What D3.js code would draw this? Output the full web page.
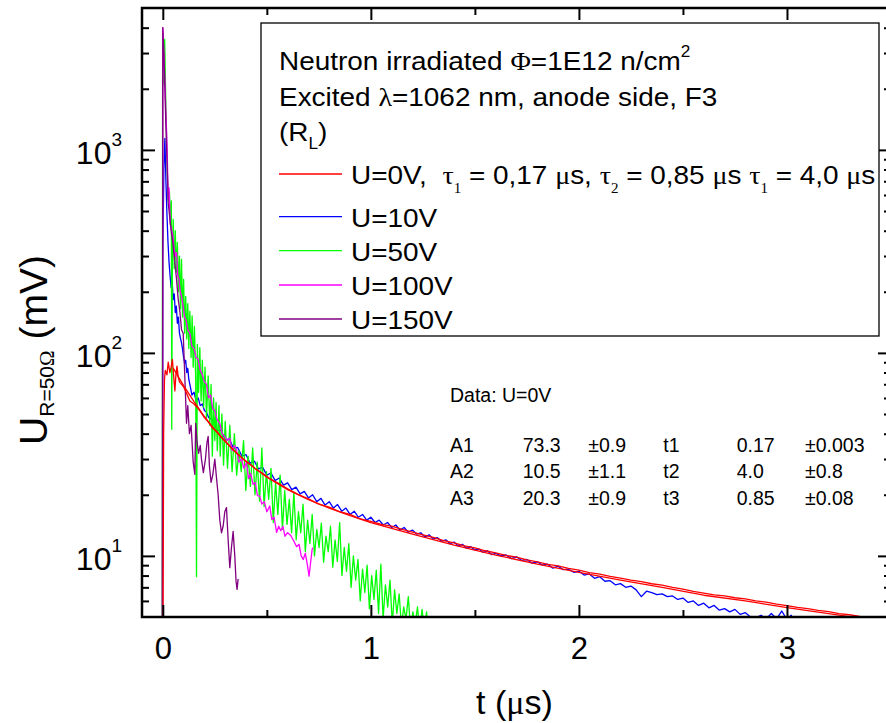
<!DOCTYPE html>
<html><head><meta charset="utf-8">
<script src="https://cdn.jsdelivr.net/npm/d3@7"></script>
<style>
body{margin:0;background:#fff}
svg{display:block}
text{font-family:"Liberation Sans",Arial,sans-serif;fill:#000;white-space:pre}
.gr{font-family:"Liberation Serif","Times New Roman",serif}
</style>
</head><body>
<svg id="c" width="886" height="723"></svg>
<script>
// ---------------- data ----------------
const xMajorTicks = [0, 1, 2, 3];
const xMinorTicks = [0.5, 1.5, 2.5, 3.5];
const yMajorTicks = [10, 100, 1000];
const yMajorExp = ["1", "2", "3"];
const yMinorTicks = [6,7,8,9,20,30,40,50,60,70,80,90,200,300,400,500,600,700,800,900,2000,3000,4000];

// U=0V measured (red)
const red_t = [0.000,0.004,0.008,0.012,0.02,0.026,0.034,0.04,0.046,0.053,0.058,0.063,0.068,0.074,0.08,0.09,0.1,0.106,0.115,0.13,0.14,
0.15,0.165,0.18,0.2,0.22,0.24,0.26,0.28,0.3,0.33,0.36,0.39,0.42,0.45,0.48,0.51,0.55,0.6,0.65,0.7,0.75,0.8,0.85,0.9,0.95,
1.0,1.05,1.1,1.15,1.2,1.25,1.3,1.35,1.4,1.45,1.5,1.55,1.6,1.65,1.7,1.75,1.8,1.85,1.9,1.95,2.0,2.05,2.1,2.15,2.2,2.25,2.3,2.35,2.4,2.45,2.5,2.55,2.6,2.65,2.7,2.75,2.8,2.85,2.9,2.95,3.0,3.05,3.1,3.15,3.2,3.25,3.3,3.35,3.4,3.45,3.5];
const red_v = [2,40,74,82,78,90,80,85,93,75,65,78,86,76,72,70,68,66,63,58,57,
56,54,51.5,48,45.5,42.5,41,38.5,36.8,34,31.8,29.8,28.3,26.6,25.5,24.2,23,21.4,20.1,19.1,18.0,17.4,16.5,16.0,15.2,
14.8,14.3,14.0,13.5,13.1,12.7,12.35,11.9,11.6,11.2,10.95,10.6,10.35,10.05,9.85,9.55,9.35,9.08,8.92,8.68,8.5,8.28,8.13,7.93,7.78,7.6,7.47,7.29,7.17,6.99,6.86,6.68,6.56,6.42,6.35,6.22,6.14,6.0,5.92,5.78,5.69,5.58,5.5,5.39,5.31,5.2,5.13,5.04,4.97,4.88,4.82];

// U=0V three-exponential fit (red)
const fit_t = [0.05,0.1,0.15,0.2,0.25,0.3,0.35,0.4,0.5,0.6,0.7,0.8,0.9,1.0,1.2,1.4,1.6,1.8,2.0,2.2,2.4,2.6,2.8,3.0,3.2,3.4,3.5];
const fit_v = [84.1,69.0,57.5,48.6,41.8,36.6,32.4,29.2,24.4,21.2,18.9,17.2,15.8,14.6,12.8,11.3,10.1,9.1,8.3,7.6,7.0,6.4,6.0,5.56,5.19,4.86,4.71];

// U=10V (blue)
const blue_t = [-0.002,0.0,0.005,0.01,0.015,0.02,0.025,0.03,0.035,0.04,0.045,0.05,0.055,0.06,0.065,0.07,0.075,0.08,0.085,0.09,0.095,0.1,0.105,0.11,0.115,0.12,0.125,0.13,0.135,0.14,0.15,0.16,0.17,0.18,0.19,0.2,0.21,0.22,0.23,
0.24,0.26,0.28,0.30,0.32,0.34,0.36,0.38,0.40,0.42,0.44,0.46,0.48,0.50,0.52,0.54,0.56,0.58,0.60,0.62,0.64,0.66,0.68,0.70,0.72,0.74,0.76,0.78,0.80,0.82,0.84,0.86,0.88,0.90,0.92,0.94,0.96,0.98,1.00,1.02,1.04,1.06,1.08,1.10,1.12,1.14,1.16,1.18,1.20,1.22,1.24,1.26,1.28,1.30,1.32,1.34,1.36,1.38,1.40,1.42,1.44,1.46,1.48,1.50,1.52,1.54,1.56,1.58,1.60,
1.625,1.65,1.675,1.7,1.725,1.75,1.775,1.8,1.825,1.85,1.875,1.9,1.925,1.95,1.975,2.0,2.025,2.05,2.075,2.1,2.125,2.15,2.175,2.2,2.225,2.25,2.275,2.3,2.325,2.35,2.375,2.4,2.425,2.45,2.475,2.5,2.525,2.55,2.575,2.6,2.625,2.65,2.675,2.7,2.725,2.75,2.775,2.8,2.825,2.85,2.875,2.9,2.925,2.95,2.975,3.0,3.02,3.04];
const blue_v = [2,300,800,1140,700,480,350,280,240,210,225,183,195,158,170,140,150,125,118,112,104,95,89,92,80,84,74,70,66,62,64,58,60,55,56,52,51,48,47.5,
46.5,41.5,41.6,37.3,37.7,33.9,34.2,31.0,31.5,28.6,29.3,26.8,27.3,25.0,25.6,23.5,24.2,22.3,22.9,21.2,21.8,20.2,20.8,19.3,20.0,18.5,19.2,17.8,18.5,17.2,17.9,16.6,17.2,16.0,16.6,15.5,16.0,15.0,15.5,14.6,15.0,14.2,14.6,13.8,14.2,13.4,13.8,13.1,13.4,12.8,13.0,12.4,12.7,12.1,12.3,11.8,12.0,11.5,11.7,11.2,11.4,10.9,11.1,10.7,10.8,10.4,10.6,10.15,10.3,
10.0,10.1,9.7,9.9,9.5,9.6,9.2,9.35,9.0,9.1,8.7,8.9,8.55,8.6,8.3,8.4,8.05,8.15,7.75,7.9,7.5,7.55,7.2,7.3,7.0,7.1,6.8,6.3,6.7,6.6,6.45,6.5,6.3,6.35,6.1,6.2,5.9,6.0,5.7,5.85,5.55,5.7,5.4,5.5,5.3,5.45,5.15,5.25,5.0,4.95,5.1,4.9,5.2,4.9,5.35,4.85,5.1,4.6];

// U=50V (green)
const green_t = [-0.003,-0.001,0.004,0.009,0.014,0.02,0.026,0.032,0.037,0.041,0.043,0.046,0.05,0.055,0.06,0.065,0.07,0.075,0.08,0.085,0.09,0.095,0.1,0.105,0.11,0.115,0.12,0.125,0.13,0.136,0.141,0.146,0.152,0.158,0.162,0.166,0.172,0.178,0.184,0.19,0.196,0.203,0.21,0.218,0.226,0.232,0.238,0.244,0.25,0.256,0.262,0.27,0.276,0.284,0.292,
0.300,0.311,0.322,0.333,0.344,0.355,0.366,0.377,0.388,0.399,0.410,0.421,0.432,0.443,0.454,0.465,0.476,0.487,0.498,0.509,0.520,0.531,0.542,0.553,0.564,0.575,0.586,0.597,0.608,0.619,0.630,0.641,0.652,0.663,0.674,0.685,0.696,0.707,0.718,0.729,0.740,0.751,0.762,0.773,0.784,0.795,0.806,0.817,0.828,0.839,0.850,0.861,0.872,0.883,0.894,0.905,0.916,0.927,0.938,0.949,0.960,0.971,0.982,0.993,1.004,1.015,1.026,1.037,1.048,1.059,1.070,1.081,1.092,1.103,1.114,1.125,1.136,1.147,1.158,1.169,1.180,1.191,1.202,1.213,1.224,1.235,1.246,1.257,1.268,1.275];
const green_v = [3,2300,2100,3500,1800,900,560,620,430,560,42,320,455,260,400,250,350,200,300,165,289,150,230,125,190,117,175,105,160,95,152,85,135,75,7.9,110,64,106,58,92,54,85,48,77,44,70,31,60,37,57,33,55,31,50,28,
46,27,44,26,40,25,33,26,37,21,31,22,34,20,29,18.6,34,17.5,26,19,27,14.6,23,16,25,13.5,21,14.3,19,13,20.5,12,16.5,13,18,10.5,15,11.5,16,10,13.5,11,14.5,9.3,12.5,10.5,14,8.8,12,9.4,14.6,8.0,11,8.4,11.5,7.0,10,7.6,9.6,6.0,8.6,6.6,9.0,5.5,8.0,6.1,8.5,5.2,9.1,4.9,7.2,5.6,7.6,4.6,6.8,5.2,6.5,4.5,5.6,4.9,6.3,4.3,5.3,4.6,5.6,4.2,5.45,4.4,5.3,4.0];

// U=100V (magenta)
const mag_t = [-0.002,0.0,0.005,0.01,0.015,0.02,0.026,0.03,0.036,0.042,0.048,0.054,0.06,0.066,0.072,0.078,0.084,0.09,0.098,0.105,0.112,0.12,0.13,0.14,0.15,0.16,0.17,0.18,0.19,0.2,0.21,0.22,0.23,0.24,0.25,0.26,0.274,0.285,0.295,0.31,0.322,0.333,0.344,0.354,0.365,0.378,0.39,0.402,0.412,0.422,0.434,0.444,0.455,0.466,0.476,0.488,0.5,0.514,0.524,0.535,0.547,0.557,0.567,0.577,0.587,0.6,0.615,0.63,0.643,0.655,0.665,0.675,0.685,0.695,0.703,0.71,0.718,0.723];
const mag_v = [3,4000,3000,2200,1500,1100,570,650,430,405,380,330,300,312,240,230,200,190,170,150,145,130,125,108,105,95,93,82,78,72,70,60,62,53,52,47,45,40,39,37,38,33,35,33.5,29,30,27,28.8,24,25.5,22.5,23,19.8,19.7,18.0,18.5,16.5,17.6,15.1,15.5,13.05,14.0,13.3,14.0,12.5,13.0,12.6,11.8,11.1,11.4,10.0,9.6,10.3,9.0,7.95,9.2,10.8,11.0];

// U=150V (purple)
const pur_t = [-0.002,0.0,0.005,0.01,0.015,0.02,0.026,0.032,0.04,0.048,0.056,0.066,0.074,0.082,0.09,0.098,0.105,0.114,0.12,0.128,0.136,0.146,0.154,0.158,0.165,0.172,0.18,0.186,0.195,0.205,0.212,0.218,0.224,0.232,0.24,0.25,0.258,0.266,0.274,0.282,0.29,0.298,0.306,0.314,0.322,0.33,0.338,0.346,0.352,0.357,0.362];
const pur_v = [3,4000,3000,2000,1300,900,547,480,400,350,290,231,184,160,130,125,80,45,55,40,44,29,25.2,45,36,32,35,29.9,25.7,30,36,38.8,27.7,23,25,30,24.3,20,15,13.0,14,16.5,17.3,12,8.75,11,13.2,10,7.5,6.84,7.7];

const legendLabels = ["U=0V", "U=10V", "U=50V", "U=100V", "U=150V"];
const seriesColors = ["#ff0000", "#0000ff", "#00ff00", "#ff00ff", "#800080"];

const tableHeader = "Data: U=0V";
const parNames = ["A1", "A2", "A3"];
const parValues = ["73.3", "10.5", "20.3"];
const parErrors = ["\u00b10.9", "\u00b11.1", "\u00b10.9"];
const tauNames = ["t1", "t2", "t3"];
const tauValues = ["0.17", "4.0", "0.85"];
const tauErrors = ["\u00b10.003", "\u00b10.8", "\u00b10.08"];

// ---------------- chart ----------------
const svg = d3.select("#c");
const P = {left: 142, right: 891, top: 8, bottom: 617};
const x = d3.scaleLinear().domain([-0.1, 3.5]).range([P.left, P.right]);
const y = d3.scaleLog().domain([5, 5000]).range([P.bottom, P.top]);

svg.append("defs").append("clipPath").attr("id", "clip")
  .append("rect").attr("x", P.left).attr("y", P.top)
  .attr("width", P.right - P.left).attr("height", P.bottom - P.top);

const zip = (a, b) => a.map((t, i) => [t, b[i]]);
const line = d3.line().x(d => x(d[0])).y(d => y(Math.max(d[1], 0.5)));

const plot = svg.append("g").attr("clip-path", "url(#clip)");
const series = [
  {d: zip(blue_t, blue_v), c: seriesColors[1]},
  {d: zip(green_t, green_v), c: seriesColors[2]},
  {d: zip(mag_t, mag_v), c: seriesColors[3]},
  {d: zip(pur_t, pur_v), c: seriesColors[4]},
  {d: zip(red_t, red_v), c: seriesColors[0]},
  {d: zip(fit_t, fit_v), c: seriesColors[0]}
];
plot.selectAll("path.s").data(series).join("path")
  .attr("class", "s").attr("fill", "none")
  .attr("stroke", d => d.c).attr("stroke-width", 1.3)
  .attr("stroke-linejoin", "round")
  .attr("d", d => line(d.d));

// axes with inward ticks
function styleAxis(g) {
  g.select(".domain").remove();
  g.selectAll(".tick line").attr("stroke", "#000").attr("stroke-width", 2);
}
const fmtNone = () => "";
svg.append("g").attr("transform", `translate(0,${P.bottom})`)
  .call(d3.axisBottom(x).tickValues(xMajorTicks).tickSize(-12).tickPadding(20).tickFormat(d3.format("d")))
  .call(styleAxis)
  .call(g => g.selectAll("text").attr("font-size", 31).attr("font-family", "Liberation Sans, Arial, sans-serif").attr("fill", "#000"));
svg.append("g").attr("transform", `translate(0,${P.bottom})`)
  .call(d3.axisBottom(x).tickValues(xMinorTicks).tickSize(-7).tickFormat(fmtNone)).call(styleAxis);
svg.append("g").attr("transform", `translate(0,${P.top})`)
  .call(d3.axisTop(x).tickValues(xMajorTicks).tickSize(-12).tickFormat(fmtNone)).call(styleAxis);
svg.append("g").attr("transform", `translate(0,${P.top})`)
  .call(d3.axisTop(x).tickValues(xMinorTicks).tickSize(-7).tickFormat(fmtNone)).call(styleAxis);
svg.append("g").attr("transform", `translate(${P.left},0)`)
  .call(d3.axisLeft(y).tickValues(yMajorTicks).tickSize(-13).tickFormat(fmtNone)).call(styleAxis);
svg.append("g").attr("transform", `translate(${P.left},0)`)
  .call(d3.axisLeft(y).tickValues(yMinorTicks).tickSize(-7).tickFormat(fmtNone)).call(styleAxis);
svg.append("g").attr("transform", `translate(${P.right},0)`)
  .call(d3.axisRight(y).tickValues(yMajorTicks).tickSize(-13).tickFormat(fmtNone)).call(styleAxis);
svg.append("g").attr("transform", `translate(${P.right},0)`)
  .call(d3.axisRight(y).tickValues(yMinorTicks).tickSize(-7).tickFormat(fmtNone)).call(styleAxis);

// frame
svg.append("rect").attr("x", P.left).attr("y", P.top)
  .attr("width", P.right - P.left).attr("height", P.bottom - P.top)
  .attr("fill", "none").attr("stroke", "#000").attr("stroke-width", 2.5);

// y tick labels 10^n
const yl = svg.selectAll("text.ylab").data(yMajorTicks).join("text")
  .attr("class", "ylab").attr("text-anchor", "end")
  .attr("x", 122).attr("y", d => y(d) + 14).attr("font-size", 32);
yl.append("tspan").text("10");
yl.append("tspan").attr("dy", -18).attr("font-size", 19).text((d, i) => yMajorExp[i]);

// axis titles
const xt = svg.append("text").attr("x", (P.left + P.right) / 2 - 2).attr("y", 714)
  .attr("text-anchor", "middle").attr("font-size", 34);
xt.append("tspan").text("t (");
xt.append("tspan").attr("class", "gr").text("\u03bc");
xt.append("tspan").text("s)");

const yt = svg.append("text").attr("transform", "translate(47,350) rotate(-90)")
  .attr("text-anchor", "middle").attr("font-size", 39);
yt.append("tspan").text("U");
yt.append("tspan").attr("font-size", 21).attr("dy", 7).text("R=50");
yt.append("tspan").attr("font-size", 21).attr("class", "gr").text("\u03a9");
yt.append("tspan").attr("dy", -7).text(" (mV)");

// legend
const L = svg.append("g");
L.append("rect").attr("x", 261).attr("y", 23).attr("width", 618).attr("height", 313)
  .attr("fill", "#fff").attr("stroke", "#000").attr("stroke-width", 1.3);
const fs = 26, sx = 1.075;
const ltext = (px, py) => L.append("text")
  .attr("transform", `translate(${px},${py}) scale(${sx},1)`).attr("font-size", fs);
const t1 = ltext(279, 70);
t1.append("tspan").text("Neutron irradiated ");
t1.append("tspan").attr("class", "gr").text("\u03a6");
t1.append("tspan").text("=1E12 n/cm");
t1.append("tspan").attr("font-size", 16).attr("dy", -13).text("2");
const t2 = ltext(279, 106);
t2.append("tspan").text("Excited ");
t2.append("tspan").attr("class", "gr").text("\u03bb");
t2.append("tspan").text("=1062 nm, anode side, F3");
const t3 = ltext(279, 141);
t3.append("tspan").text("(R");
t3.append("tspan").attr("font-size", 16).attr("dy", 8).text("L");
t3.append("tspan").attr("dy", -8).text(")");

const legY = [184, 226.7, 260.7, 295, 329];
legendLabels.forEach((lab, i) => {
  L.append("line").attr("x1", 279).attr("x2", 342).attr("y1", legY[i] - 10).attr("y2", legY[i] - 10)
    .attr("stroke", seriesColors[i]).attr("stroke-width", 1.3);
  const tx = ltext(351, legY[i]);
  if (i === 0) {
    tx.append("tspan").text(lab + ",  ");
    const tauPart = (sub, val, tail) => {
      tx.append("tspan").attr("class", "gr").text("\u03c4");
      tx.append("tspan").attr("class", "gr").attr("font-size", 14).attr("dy", 9).text(sub);
      tx.append("tspan").attr("dy", -9).text(" = " + val + " ");
      tx.append("tspan").attr("class", "gr").text("\u03bc");
      tx.append("tspan").text(tail);
    };
    tauPart("1", "0,17", "s, ");
    tauPart("2", "0,85", "s ");
    tauPart("1", "4,0", "s");
  } else {
    tx.text(lab);
  }
});

// fit result table
const tf = 19.5;
svg.append("text").attr("x", 450).attr("y", 401.7).attr("font-size", tf).text(tableHeader);
const colX = [450, 522.7, 588.3, 663.3, 736.7, 805];
const rowY = [451.7, 478, 505];
parNames.forEach((n, i) => {
  const row = [n, parValues[i], parErrors[i], tauNames[i], tauValues[i], tauErrors[i]];
  row.forEach((s, j) => {
    svg.append("text").attr("x", colX[j]).attr("y", rowY[i]).attr("font-size", tf).text(s);
  });
});
</script>
</body></html>
